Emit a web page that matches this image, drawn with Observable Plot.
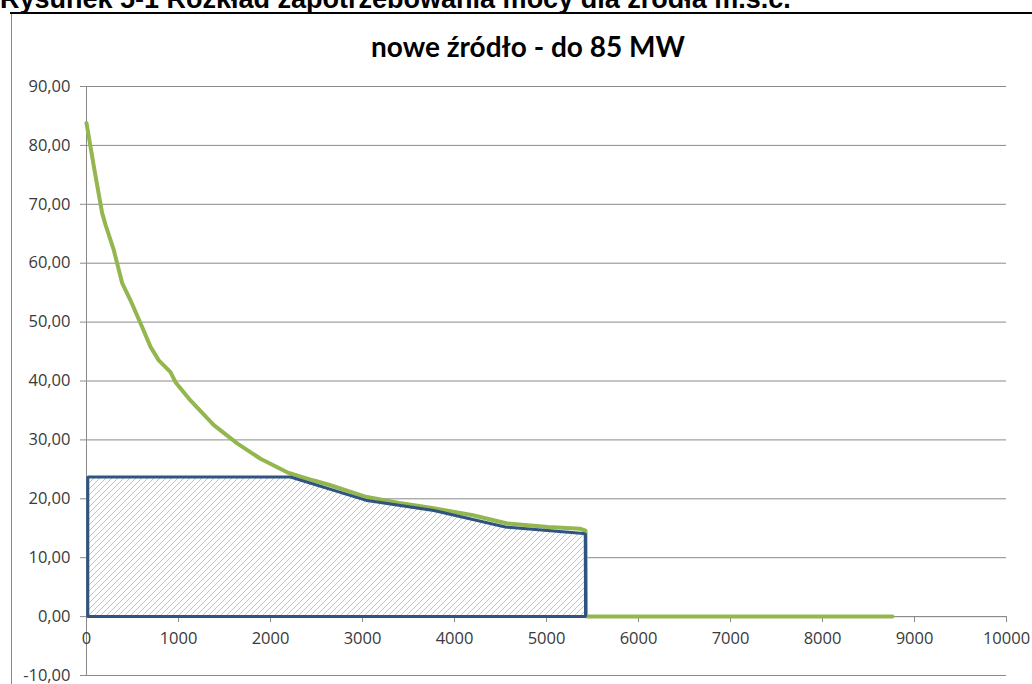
<!DOCTYPE html>
<html>
<head>
<meta charset="utf-8">
<script src="https://cdn.jsdelivr.net/npm/d3@7"></script>
<script src="https://cdn.jsdelivr.net/npm/@observablehq/plot@0.6"></script>
<style>
  html, body { margin: 0; padding: 0; background: #fff; overflow: hidden; }
  #page { position: relative; width: 1032px; height: 684px; overflow: hidden; background: #fff; }
  #fig { position: absolute; left: 0; top: -14.4px; font: bold 27px "Liberation Sans", Arial, sans-serif; line-height: 27px; white-space: nowrap; color: #000; }
  #rule { position: absolute; left: 10px; top: 12px; width: 1022px; height: 2px; background: #000; }
  #frame { position: absolute; left: 11px; top: 14px; width: 1px; height: 670px; background: #8a8a8a; z-index: 3; }
  #chart { position: absolute; left: 0; top: 14px; z-index: 1; }
  #title { position: absolute; left: 11px; width: 1034px; top: 32px; text-align: center; font: bold 28px Lato, "Open Sans", sans-serif; line-height: 28px; color: #000; z-index: 2; white-space: nowrap; }
</style>
</head>
<body>
<div id="page">
  <div id="fig">Rysunek 5-1 Rozkład zapotrzebowania mocy dla źródła m.s.c.</div>
  <div id="rule"></div>
  <div id="frame"></div>
  <div id="chart"></div>
  <div id="title">nowe źródło - do 85 MW</div>
</div>
<script>
// ---- data ----
const yTicks = [-10, 0, 10, 20, 30, 40, 50, 60, 70, 80, 90];
const xTicks = [0, 1000, 2000, 3000, 4000, 5000, 6000, 7000, 8000, 9000, 10000];

// demand (green) – hours vs MW
const demandHours = [0, 80, 170, 207, 297, 388, 478, 587, 696, 786, 913, 967, 1130, 1384, 1638, 1891, 2181, 2471, 2652, 3020, 3400, 3775, 4200, 4573, 5015, 5370, 5424, 5430, 8760];
const demandMW    = [83.8, 76.4, 68.5, 66.5, 62.2, 56.6, 53.7, 49.8, 45.8, 43.5, 41.5, 39.8, 36.7, 32.5, 29.4, 26.8, 24.5, 23.1, 22.3, 20.4, 19.3, 18.4, 17.2, 15.8, 15.2, 14.9, 14.6, 0, 0];

// new source (blue hatched area)
const sourceHours = [14, 2217, 3051, 3775, 4554, 5405, 5424];
const sourceMW    = [23.7, 23.7, 19.7, 18.0, 15.2, 14.1, 14.0];

const demand = demandHours.map((h, i) => ({h, mw: demandMW[i]}));
const source = sourceHours.map((h, i) => ({h, mw: sourceMW[i]}));
const outline = [
  {h: sourceHours[0], mw: 0},
  ...source,
  {h: sourceHours[sourceHours.length - 1], mw: 0},
  {h: sourceHours[0], mw: 0}
];

const fmt = d => d.toFixed(2).replace(".", ",");
const gridColor = "#8a8a8a";
const textColor = "#3a3a3a";

const plot = Plot.plot({
  width: 1032,
  height: 670,
  marginTop: 72,
  marginBottom: 9,
  marginLeft: 86,
  marginRight: 26,
  x: {domain: [0, 10000], axis: null},
  y: {domain: [-10, 90], label: null},
  style: {fontFamily: "'Open Sans', sans-serif", fontSize: "16.5px", background: "transparent", overflow: "visible"},
  marks: [
    Plot.gridY(yTicks, {stroke: gridColor, strokeOpacity: 1}),
    Plot.ruleX([0], {stroke: gridColor}),
    Plot.ruleY([0], {stroke: gridColor}),
    Plot.ruleX(xTicks.slice(1), {x: d => d, y1: 0, y2: 0, insetBottom: -6, stroke: gridColor}),
    Plot.axisY(yTicks, {tickSize: 6, tickPadding: 10, stroke: gridColor, fill: textColor, tickFormat: fmt}),
    Plot.text(xTicks, {x: d => d, y: 0, dy: 22, text: d => String(d), fill: textColor}),
    Plot.areaY(source, {x: "h", y: "mw", fill: "url(#hatch)"}),
    Plot.line(demand, {x: "h", y: "mw", stroke: "#94b64e", strokeWidth: 4}),
    Plot.line(outline, {x: "h", y: "mw", stroke: "#2f5480", strokeWidth: 3, strokeLinejoin: "miter"})
  ]
});

d3.select(plot).insert("defs", ":first-child").html(
  '<pattern id="hatch" patternUnits="userSpaceOnUse" width="6" height="6">' +
  '<rect width="6" height="6" fill="#ffffff"/>' +
  '<path d="M-1,1 l2,-2 M0,6 l6,-6 M5,7 l2,-2" stroke="#c2c2c2" stroke-width="1"/>' +
  '</pattern>'
);

document.getElementById("chart").appendChild(plot);
</script>
</body>
</html>
